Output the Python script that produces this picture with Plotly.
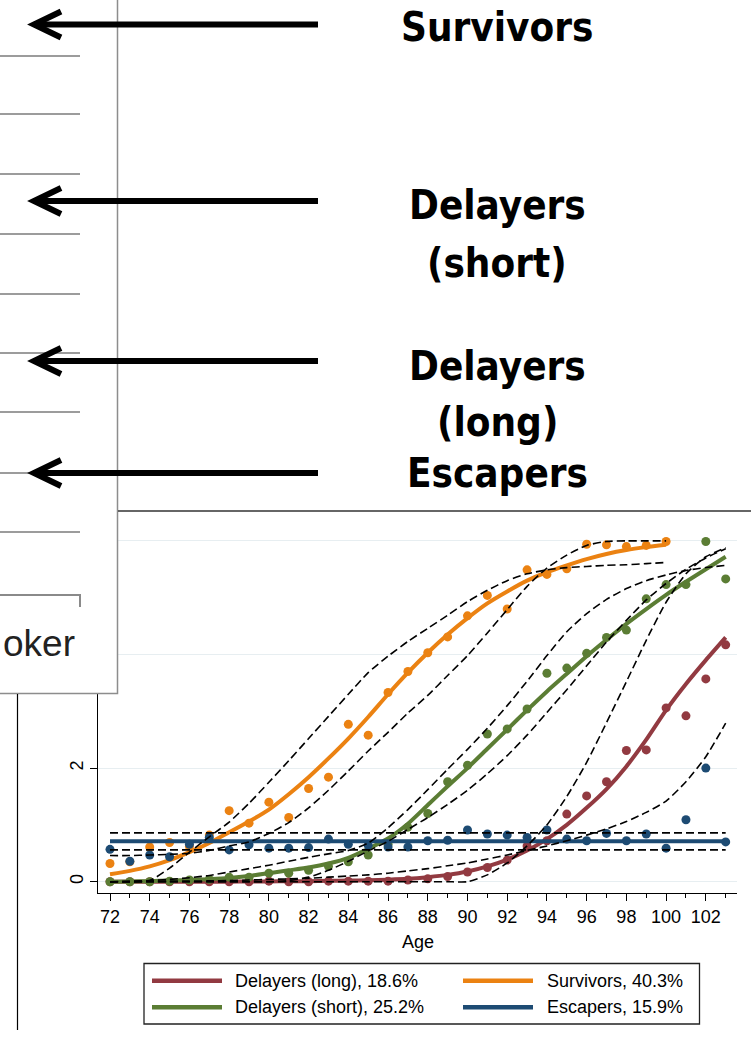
import plotly.graph_objects as go

# ---------------- data ----------------
ages = list(range(72, 104))          # 72 .. 103
ages_surv = list(range(72, 101))     # Survivors observed/fitted up to 100

x_tick_step = 2
y_tick_step = 2

group_names = ["Delayers (long)", "Delayers (short)", "Survivors", "Escapers"]
group_shares = ["18.6%", "25.2%", "40.3%", "15.9%"]

# observed group means
obs_long = [0.00, 0.00, 0.00, 0.00, 0.00, 0.00, 0.00, 0.00, 0.01, 0.00, 0.00, 0.01, 0.01,
            0.01, 0.01, 0.03, 0.05, 0.09, 0.17, 0.25, 0.38, 0.63, 0.72, 1.19, 1.51, 1.76,
            2.31, 2.32, 3.06, 2.92, 3.57, 4.17]
obs_short = [0.00, 0.00, 0.00, 0.01, 0.03, 0.04, 0.08, 0.08, 0.15, 0.15, 0.20, 0.27, 0.35,
             0.47, 0.66, 0.96, 1.20, 1.76, 2.05, 2.60, 2.69, 3.04, 3.67, 3.76, 4.02, 4.30,
             4.43, 4.98, 5.23, 5.23, 5.99, 5.33]
obs_surv = [0.32, 0.35, 0.61, 0.69, 0.62, 0.82, 1.25, 1.03, 1.40, 1.13, 1.64, 1.84, 2.77,
            2.58, 3.33, 3.70, 4.03, 4.31, 4.68, 5.04, 4.80, 5.49, 5.41, 5.51, 5.94, 5.93,
            5.90, 5.92, 5.99]
obs_esc = [0.57, 0.36, 0.47, 0.44, 0.66, 0.78, 0.56, 0.65, 0.59, 0.59, 0.60, 0.75, 0.66,
           0.64, 0.61, 0.61, 0.72, 0.73, 0.91, 0.84, 0.82, 0.78, 0.91, 0.75, 0.72, 0.85,
           0.72, 0.84, 0.59, 1.09, 2.00, 0.70]

# fitted trajectories
fit_long = [0.00, 0.00, 0.00, 0.00, 0.00, 0.00, 0.00, 0.005, 0.005, 0.01, 0.01, 0.015, 0.02,
            0.025, 0.035, 0.05, 0.08, 0.12, 0.18, 0.27, 0.39, 0.55, 0.75, 1.00, 1.30, 1.63,
            2.03, 2.50, 3.02, 3.48, 3.90, 4.30]
fit_short = [0.00, 0.005, 0.01, 0.02, 0.03, 0.045, 0.065, 0.10, 0.15, 0.20, 0.25, 0.32, 0.42,
             0.58, 0.76, 1.02, 1.35, 1.68, 2.00, 2.34, 2.68, 3.02, 3.35, 3.66, 3.97, 4.26,
             4.54, 4.80, 5.05, 5.28, 5.50, 5.72]
fit_surv = [0.13, 0.19, 0.27, 0.38, 0.52, 0.68, 0.87, 1.06, 1.27, 1.54, 1.84, 2.17, 2.52,
            2.90, 3.30, 3.68, 4.03, 4.35, 4.64, 4.90, 5.11, 5.30, 5.45, 5.57, 5.68, 5.77,
            5.84, 5.89, 5.93]
fit_esc = 0.71

# 95% confidence bounds of the fitted trajectories
ci_long_a = [0.00, 0.00, 0.00, 0.00, 0.00, 0.00, 0.00, 0.00, 0.00, 0.00, 0.00, 0.00, 0.00,
             0.00, 0.00, 0.00, 0.00, 0.00, 0.00, 0.12, 0.33, 0.63, 1.00, 1.50, 2.10, 2.80,
             3.52, 4.25, 4.92, 5.42, 5.72, 5.88]
ci_long_b = [0.00, 0.00, 0.005, 0.01, 0.01, 0.015, 0.02, 0.03, 0.04, 0.05, 0.06, 0.08, 0.10,
             0.12, 0.15, 0.19, 0.23, 0.28, 0.33, 0.40, 0.47, 0.55, 0.63, 0.72, 0.82, 0.93,
             1.06, 1.22, 1.42, 1.76, 2.20, 2.79]
ci_short_a = [0.00, 0.01, 0.02, 0.04, 0.07, 0.11, 0.17, 0.23, 0.29, 0.36, 0.43, 0.49, 0.55,
              0.68, 0.95, 1.27, 1.62, 1.98, 2.33, 2.70, 3.10, 3.53, 3.98, 4.40, 4.72, 4.97,
              5.16, 5.30, 5.40, 5.48, 5.53, 5.57]
ci_short_b = [0.00, 0.00, 0.00, 0.00, 0.00, 0.00, 0.00, 0.00, 0.00, 0.02, 0.08, 0.20, 0.36,
              0.54, 0.71, 0.92, 1.13, 1.36, 1.61, 1.90, 2.22, 2.58, 2.98, 3.38, 3.80, 4.22,
              4.60, 4.96, 5.25, 5.50, 5.70, 5.86]
ci_surv_a = [0.00, 0.00, 0.02, 0.24, 0.52, 0.79, 1.05, 1.38, 1.75, 2.13, 2.52, 2.91, 3.30,
             3.68, 3.97, 4.23, 4.46, 4.69, 4.93, 5.13, 5.30, 5.42, 5.49, 5.53, 5.55, 5.57,
             5.58, 5.60, 5.62]
ci_surv_b = [0.46, 0.46, 0.47, 0.48, 0.50, 0.55, 0.63, 0.70, 0.85, 1.04, 1.30, 1.61, 1.95,
             2.30, 2.63, 2.97, 3.28, 3.63, 3.98, 4.38, 4.79, 5.20, 5.52, 5.75, 5.92, 5.99,
             6.00, 6.00, 6.00]
ci_esc_lo = 0.56
ci_esc_hi = 0.86

# labels of the annotated groups on the left-hand panel
side_labels = [["Survivors"], ["Delayers", "(short)"], ["Delayers", "(long)"], ["Escapers"]]

# ---------------- styling ----------------
col_long = "#923a41"
col_short = "#5b7d34"
col_surv = "#eb8212"
col_esc = "#1d4b73"

W, H = 751, 1042
ML, MR, MT, MB = 98, 14, 511, 149
PW, PH = W - ML - MR, H - MT - MB


def px(x):
    return (x - ML) / PW


def py(y):
    return (H - MB - y) / PH


fig = go.Figure()


def add_group(x, fit, obs, color):
    fig.add_trace(go.Scatter(x=x, y=fit, mode="lines",
                             line=dict(color=color, width=4, shape="spline", smoothing=0.6),
                             hoverinfo="skip", showlegend=False))
    if obs is not None:
        fig.add_trace(go.Scatter(x=x, y=obs, mode="markers",
                                 marker=dict(color=color, size=9, line=dict(width=0)),
                                 showlegend=False))


add_group(ages, fit_long, obs_long, col_long)
add_group(ages, fit_short, obs_short, col_short)
add_group(ages_surv, fit_surv, obs_surv, col_surv)
add_group([ages[0], ages[-1]], [fit_esc, fit_esc], None, col_esc)
fig.add_trace(go.Scatter(x=ages, y=obs_esc, mode="markers",
                         marker=dict(color=col_esc, size=9, line=dict(width=0)),
                         showlegend=False))

dash_style = dict(color="black", width=1.6, dash="8px,4px", shape="spline", smoothing=0.6)
for xs, ys in [(ages, ci_long_a), (ages, ci_long_b),
               (ages, ci_short_a), (ages, ci_short_b),
               (ages_surv, ci_surv_a), (ages_surv, ci_surv_b),
               ([ages[0], ages[-1]], [ci_esc_lo, ci_esc_lo]),
               ([ages[0], ages[-1]], [ci_esc_hi, ci_esc_hi])]:
    fig.add_trace(go.Scatter(x=xs, y=ys, mode="lines", line=dash_style,
                             hoverinfo="skip", showlegend=False))

base_font = "Liberation Sans, Arial, sans-serif"
label_font = "Liberation Sans Narrow, Arial Narrow, DejaVu Sans Condensed, sans-serif"

shapes = []
annotations = []

# left inset panel
shapes.append(dict(type="rect", xref="paper", yref="paper",
                   x0=px(-2), x1=px(117.5), y0=py(693.5), y1=py(-2),
                   fillcolor="white", line=dict(color="#8d8d8d", width=1.5), layer="above"))
for yy in [56, 114, 174, 234, 294, 353, 412, 473, 532]:
    shapes.append(dict(type="line", xref="paper", yref="paper",
                       x0=px(0), x1=px(80), y0=py(yy), y1=py(yy),
                       line=dict(color="#9c9c9c", width=2), layer="above"))
shapes.append(dict(type="path", xref="paper", yref="paper",
                   path=f"M {px(0)},{py(595)} L {px(80)},{py(595)} L {px(80)},{py(607)}",
                   line=dict(color="#8a8a8a", width=2), layer="above"))
annotations.append(dict(text="oker", xref="paper", yref="paper", x=px(77), y=py(643),
                        xanchor="right", yanchor="middle", showarrow=False,
                        font=dict(family=base_font, size=37, color="#222222")))
shapes.append(dict(type="line", xref="paper", yref="paper",
                   x0=px(17.5), x1=px(17.5), y0=py(694), y1=py(1030),
                   line=dict(color="black", width=1.2), layer="above"))

# frame line above the chart
shapes.append(dict(type="line", xref="paper", yref="paper",
                   x0=px(118), x1=px(751), y0=py(511), y1=py(511),
                   line=dict(color="#333333", width=1.5), layer="above"))

# arrows
for yy in [24.5, 201, 361, 473]:
    shapes.append(dict(type="line", xref="paper", yref="paper",
                       x0=px(36), x1=px(318), y0=py(yy), y1=py(yy),
                       line=dict(color="black", width=6), layer="above"))
    shapes.append(dict(type="path", xref="paper", yref="paper",
                       path=f"M {px(61)},{py(yy - 13)} L {px(34)},{py(yy)} L {px(61)},{py(yy + 13)}",
                       line=dict(color="black", width=6), layer="above"))

# group labels beside the arrows
label_rows = [(side_labels[0][0], 27), (side_labels[1][0], 205), (side_labels[1][1], 263),
              (side_labels[2][0], 366), (side_labels[2][1], 422), (side_labels[3][0], 473)]
for txt, yy in label_rows:
    annotations.append(dict(text=f"<b>{txt}</b>", xref="paper", yref="paper",
                            x=px(497), y=py(yy), xanchor="center", yanchor="middle",
                            showarrow=False,
                            font=dict(family=label_font, size=40, color="black")))

# axis title
annotations.append(dict(text="Age", xref="paper", yref="paper", x=px(418), y=py(942),
                        xanchor="center", yanchor="middle", showarrow=False,
                        font=dict(family=base_font, size=18, color="black")))

# legend box
shapes.append(dict(type="rect", xref="paper", yref="paper",
                   x0=px(144), x1=px(699.5), y0=py(1024), y1=py(963.5),
                   fillcolor="white", line=dict(color="#222222", width=1.3), layer="above"))
legend_items = [(group_names[0], group_shares[0], col_long, 152, 233, 980.7),
                (group_names[1], group_shares[1], col_short, 152, 233, 1007.3),
                (group_names[2], group_shares[2], col_surv, 463, 545, 980.7),
                (group_names[3], group_shares[3], col_esc, 463, 545, 1007.3)]
for name, share, col, lx, tx, yy in legend_items:
    shapes.append(dict(type="line", xref="paper", yref="paper",
                       x0=px(lx), x1=px(lx + 70), y0=py(yy), y1=py(yy),
                       line=dict(color=col, width=4.5), layer="above"))
    annotations.append(dict(text=f"{name}, {share}", xref="paper", yref="paper",
                            x=px(tx), y=py(yy), xanchor="left", yanchor="middle",
                            showarrow=False,
                            font=dict(family=base_font, size=18, color="black")))

fig.update_layout(
    width=W, height=H,
    margin=dict(l=ML, r=MR, t=MT, b=MB, pad=0),
    paper_bgcolor="white", plot_bgcolor="white",
    showlegend=False,
    font=dict(family=base_font, size=18, color="black"),
    shapes=shapes, annotations=annotations,
    xaxis=dict(range=[71.396, 103.57], tick0=72, dtick=x_tick_step,
               ticks="outside", ticklen=7, tickwidth=1, tickcolor="black",
               showline=True, linecolor="black", linewidth=1,
               showgrid=False, zeroline=False,
               tickfont=dict(family=base_font, size=18, color="black"),
               minor=dict(dtick=1, ticks="outside", ticklen=4, tickcolor="black",
                          showgrid=False)),
    yaxis=dict(range=[-0.199, 6.526], tick0=0, dtick=y_tick_step,
               ticks="outside", ticklen=7, tickwidth=1, tickcolor="black",
               showline=True, linecolor="black", linewidth=1,
               showgrid=True, gridcolor="#e7eef1", gridwidth=1.3, zeroline=False,
               tickangle=-90,
               tickfont=dict(family=base_font, size=18, color="black")),
)

fig.write_html("out.html")
